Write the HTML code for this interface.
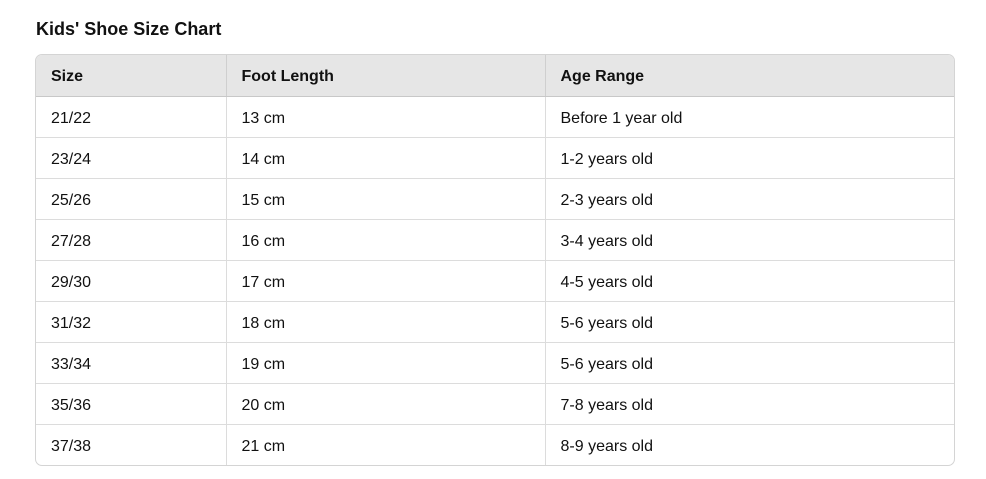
<!DOCTYPE html>
<html><head><meta charset="utf-8">
<style>
html,body{margin:0;padding:0;background:#fff;width:986px;height:479px;overflow:hidden;font-family:"Liberation Sans",sans-serif;color:#111;}
h1{position:absolute;left:36px;top:17px;margin:0;font-size:18px;font-weight:bold;line-height:24px;}
.wrap{position:absolute;left:35px;top:54px;width:918px;border:1px solid #d4d4d4;border-radius:7px;overflow:hidden;}
table{border-collapse:collapse;width:100%;table-layout:fixed;font-size:16px;}
th,td{text-align:left;padding:3px 0 0 15px;height:37px;border-right:1px solid #dcdcdc;border-bottom:1px solid #dcdcdc;}
th{background:#e6e6e6;font-weight:bold;height:38px;border-bottom:1px solid #c8c8c8;border-right-color:#cfcfcf;}
th:last-child,td:last-child{border-right:none;}
tr:last-child td{border-bottom:none;}
</style></head><body>
<h1>Kids' Shoe Size Chart</h1>
<div class="wrap">
<table>
<colgroup><col style="width:190px"><col style="width:319px"><col></colgroup>
<thead><tr>
<th>Size</th>
<th>Foot Length</th>
<th>Age Range</th></tr></thead>
<tbody>
<tr><td>21/22</td><td>13 cm</td><td>Before 1 year old</td></tr>
<tr><td>23/24</td><td>14 cm</td><td>1-2 years old</td></tr>
<tr><td>25/26</td><td>15 cm</td><td>2-3 years old</td></tr>
<tr><td>27/28</td><td>16 cm</td><td>3-4 years old</td></tr>
<tr><td>29/30</td><td>17 cm</td><td>4-5 years old</td></tr>
<tr><td>31/32</td><td>18 cm</td><td>5-6 years old</td></tr>
<tr><td>33/34</td><td>19 cm</td><td>5-6 years old</td></tr>
<tr><td>35/36</td><td>20 cm</td><td>7-8 years old</td></tr>
<tr><td>37/38</td><td>21 cm</td><td>8-9 years old</td></tr>
</tbody></table></div>
</body></html>
